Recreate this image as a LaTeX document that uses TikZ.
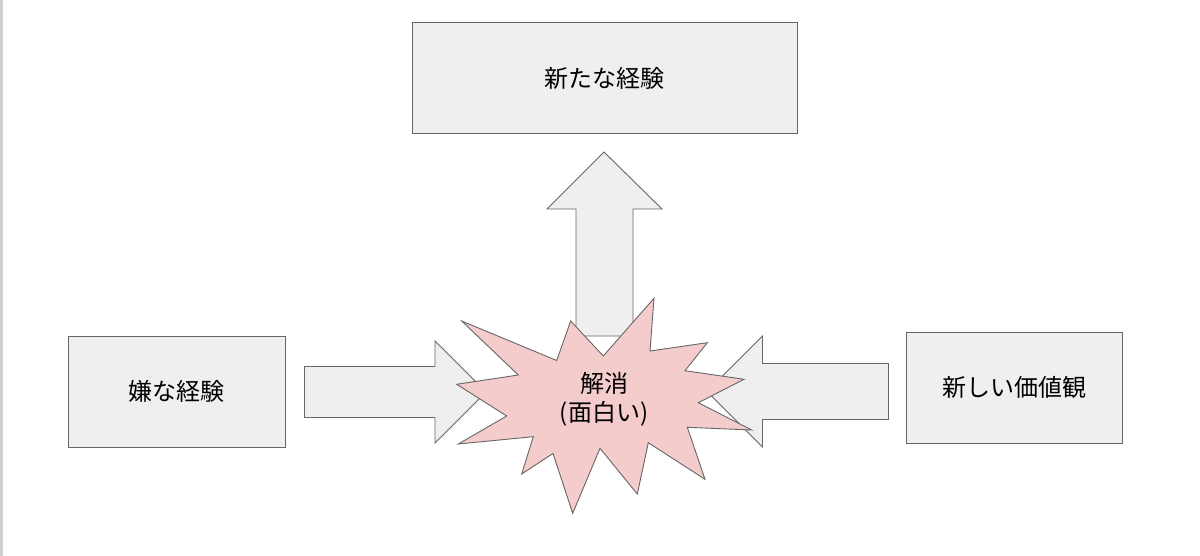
\documentclass[tikz,border=0pt]{standalone}
\usepackage{fontspec}
\setmainfont{Noto Sans CJK JP}
\definecolor{boxfill}{HTML}{EFEFEF}
\definecolor{edge}{HTML}{666666}
\definecolor{burst}{HTML}{F4CCCC}
\definecolor{strip}{HTML}{D0D0D0}
\begin{document}
\begin{tikzpicture}[x=1pt,y=-1pt,
  boxstyle/.style={draw=edge,fill=boxfill,line width=1pt,rectangle,inner sep=0pt,
    font=\fontsize{24}{30}\selectfont,align=center},
  blockarrow/.style={draw=edge,fill=boxfill,line width=0.9pt,line join=miter},
  burststyle/.style={draw=edge,fill=burst,line width=0.9pt,line join=miter},
  label/.style={font=\fontsize{24}{29}\selectfont,align=center,inner sep=0pt}]
\useasboundingbox (0,0) rectangle (1200,556);
\fill[white] (0,0) rectangle (1200,556);
\fill[strip] (0,0) rectangle (2.5,556);
% boxes
\node[boxstyle,minimum width=385pt,minimum height=111pt] (top) at (604.5,78.5) {新たな経験};
\node[boxstyle,minimum width=217pt,minimum height=111pt] (left) at (176.5,391.5) {嫌な経験};
\node[boxstyle,minimum width=216pt,minimum height=111pt] (right) at (1014,387.5) {新しい価値観};
% block arrows
\draw[blockarrow] (576,336) -- (576,209) -- (547,209) -- (604,152) -- (662,209) -- (633,209) -- (633,336) -- cycle;
\draw[blockarrow] (304.5,366.5) -- (435,366.5) -- (435,341) -- (486,392) -- (435,443) -- (435,417.5) -- (304.5,417.5) -- cycle;
\draw[blockarrow] (888.5,363.5) -- (762.5,363.5) -- (762.5,336) -- (707,391.5) -- (762.5,447) -- (762.5,419.5) -- (888.5,419.5) -- cycle;
% starburst
\draw[burststyle] (461.7,321) -- (556.7,360.5) -- (570.7,321) -- (603.3,356) -- (654,298.3)
  -- (650,351) -- (707.3,342.7) -- (685,370.7) -- (744,379.3) -- (698.3,402.7)
  -- (751.7,430) -- (687.3,427.3) -- (705,479.3) -- (648.3,442.7) -- (637.3,494)
  -- (600,448.3) -- (572.7,513.3) -- (553,453.5) -- (521.7,474) -- (533.3,436.7)
  -- (458.3,444) -- (506.7,416) -- (456.7,384.3) -- (518.3,375) -- cycle;
\node[label] (center) at (604,399) {解消\\(面白い)};
\end{tikzpicture}
\end{document}
